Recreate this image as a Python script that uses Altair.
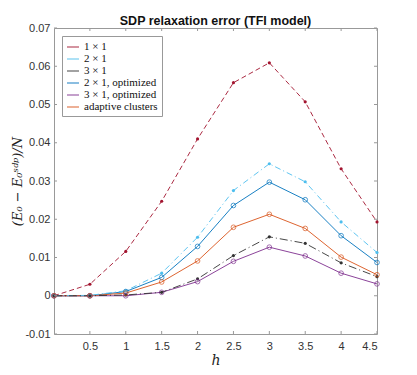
import altair as alt
import pandas as pd

h = [0, 0.5, 1, 1.5, 2, 2.5, 3, 3.5, 4, 4.5]
names = ["1 × 1", "2 × 1", "3 × 1", "2 × 1, optimized", "3 × 1, optimized", "adaptive clusters"]
s_1x1 = [0, 0.0030, 0.0116, 0.0247, 0.0410, 0.0557, 0.0609, 0.0507, 0.0332, 0.0193]
s_2x1 = [0, 0.0001, 0.0013, 0.0059, 0.0153, 0.0275, 0.0345, 0.0298, 0.0193, 0.0113]
s_3x1 = [0, 0.0000, 0.0002, 0.0009, 0.0044, 0.0105, 0.0154, 0.0137, 0.0086, 0.0050]
s_2x1o = [0, 0.0000, 0.0011, 0.0048, 0.0129, 0.0236, 0.0297, 0.0251, 0.0157, 0.0087]
s_3x1o = [0, 0.0000, 0.0000, 0.0009, 0.0037, 0.0090, 0.0127, 0.0104, 0.0059, 0.0031]
s_adapt = [0, 0.0000, 0.0007, 0.0036, 0.0091, 0.0179, 0.0213, 0.0176, 0.0101, 0.0055]
colors = ["#A2142F", "#4DBEEE", "#333333", "#0072BD", "#7E2F8E", "#D95319"]
dashes = [[5, 3], [6, 3, 1, 3], [8, 3, 1, 3], None, None, None]
x_ticks = [0.5, 1, 1.5, 2, 2.5, 3, 3.5, 4, 4.5]
y_ticks = [-0.01, 0, 0.01, 0.02, 0.03, 0.04, 0.05, 0.06, 0.07]

W, H = 323, 306
all_series = [s_1x1, s_2x1, s_3x1, s_2x1o, s_3x1o, s_adapt]
rows = []
for name, vals in zip(names, all_series):
    for hv, v in zip(h, vals):
        rows.append({"h": hv, "err": v, "series": name,
                     "filled": name in names[:3]})
df = pd.DataFrame(rows)

xs = alt.Scale(domain=[0, 4.5], nice=False, zero=False)
ys = alt.Scale(domain=[-0.01, 0.07], nice=False, zero=False)
cs = alt.Scale(domain=names, range=colors)

xaxis = alt.Axis(values=x_ticks, title="h", grid=False, domain=False, ticks=False,
                 format="~g", labelOverlap=False,
                 labelFont="Liberation Sans", labelFontSize=11, labelColor="#333",
                 labelPadding=6, titleFont="DejaVu Serif", titleFontStyle="italic",
                 titleFontWeight="normal", titleFontSize=14, titlePadding=2, titleColor="#222")
yaxis = alt.Axis(values=y_ticks, title="(E₀ − E₀ˢᵈᵖ)/N", grid=False, domain=False, ticks=False,
                 labelExpr="replace(format(datum.value, '.2~f'), '−', '-')",
                 labelOverlap=False, labelBound=False, labelFlush=False,
                 labelFont="Liberation Sans", labelFontSize=11, labelColor="#333",
                 labelPadding=4, titleFont="DejaVu Serif", titleFontStyle="italic",
                 titleFontWeight="normal", titleFontSize=13, titlePadding=0, titleColor="#222")


def X(f):
    return alt.X(f, scale=xs, axis=xaxis)


def Y(f):
    return alt.Y(f, scale=ys, axis=yaxis)


base = alt.Chart(df)
legend = alt.Legend(title=None, orient="none", legendX=8, legendY=8,
                    symbolType="stroke", symbolSize=144, symbolStrokeWidth=1.2,
                    symbolDash=[1, 0],
                    labelFont="Liberation Serif", labelFontSize=11,
                    labelColor="#111", labelLimit=300, rowPadding=0,
                    padding=4, strokeColor="#999", fillColor="white",
                    symbolOffset=0, labelOffset=4)

solid = base.transform_filter("!datum.filled").mark_line(strokeWidth=1, opacity=0.9).encode(
    x=X("h:Q"), y=Y("err:Q"),
    color=alt.Color("series:N", scale=cs, sort=names, legend=legend),
)
dashed_layers = []
for name, d in zip(names[:3], dashes[:3]):
    dashed_layers.append(
        base.transform_filter(alt.datum.series == name).mark_line(
            strokeWidth=1, opacity=0.9, strokeDash=d).encode(
            x=X("h:Q"), y=Y("err:Q"),
            color=alt.Color("series:N", scale=cs, legend=None)))

dots = base.transform_filter("datum.filled").mark_point(filled=True, size=10, opacity=1).encode(
    x=X("h:Q"), y=Y("err:Q"), color=alt.Color("series:N", scale=cs, legend=None))
rings = base.transform_filter("!datum.filled").mark_point(filled=False, size=22, strokeWidth=1).encode(
    x=X("h:Q"), y=Y("err:Q"), color=alt.Color("series:N", scale=cs, legend=None))

xt = pd.DataFrame({"v": x_ticks})
yt = pd.DataFrame({"v": y_ticks})
tick_col = "#999"
xb = alt.Chart(xt).mark_rule(color=tick_col).encode(x=X("v:Q"), y=alt.value(H), y2=alt.value(H - 3))
xtp = alt.Chart(xt).mark_rule(color=tick_col).encode(x=X("v:Q"), y=alt.value(0), y2=alt.value(3))
yl = alt.Chart(yt).mark_rule(color=tick_col).encode(y=Y("v:Q"), x=alt.value(0), x2=alt.value(3))
yr = alt.Chart(yt).mark_rule(color=tick_col).encode(y=Y("v:Q"), x=alt.value(W), x2=alt.value(W - 3))

chart = alt.layer(solid, *dashed_layers, dots, rings, xb, xtp, yl, yr).resolve_scale(color="shared").properties(
    width=W, height=H,
    title=alt.TitleParams("SDP relaxation error (TFI model)", font="Liberation Sans",
                          fontSize=12.5, fontWeight="bold", color="#111", offset=4,
                          frame="group", dy=9),
    autosize=alt.AutoSizeParams(type="none"),
    padding={"left": 46, "top": 20, "right": 32, "bottom": 33},
).configure_view(stroke="#999", strokeWidth=1)

chart.save("out.html", embed_options={"renderer": "svg", "actions": False})
